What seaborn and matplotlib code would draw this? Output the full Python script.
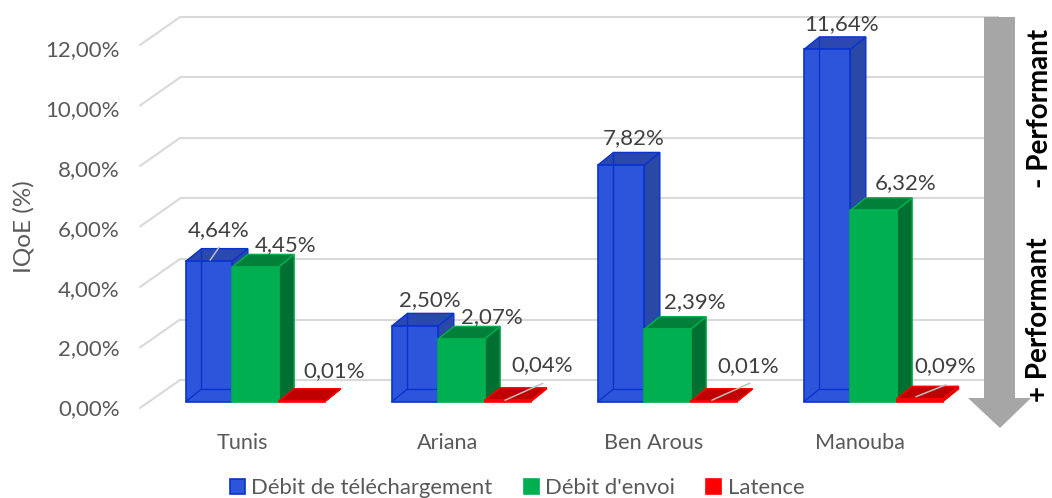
import matplotlib
matplotlib.use("Agg")
import matplotlib.pyplot as plt
import pandas as pd
import seaborn as sns
from matplotlib.patches import Polygon
from matplotlib.transforms import ScaledTranslation

categories = ["Tunis", "Ariana", "Ben Arous", "Manouba"]
debit_dl = [4.64, 2.50, 7.82, 11.64]
debit_ul = [4.45, 2.07, 2.39, 6.32]
latence = [0.01, 0.04, 0.01, 0.09]
series_names = ["Débit de téléchargement", "Débit d'envoi", "Latence"]
y_ticks = [0, 2, 4, 6, 8, 10, 12]

W, H = 1052, 498
PX_X = 1 / 206          # data units per pixel, x
PX_Y = 1 / 30.25        # data units per pixel, y
X0_PX, Y0_PX = 255.5, 401.5
L_PX, R_PX, T_PX = 140, 1000, 5
GREY = "#595959"
LABEL = "#404040"

df = pd.DataFrame({
    "cat": categories * 3,
    "serie": [s for s in series_names for _ in categories],
    "val": debit_dl + debit_ul + latence,
})

sns.set_theme(style="white")
plt.rcParams["font.family"] = ["Lato", "DejaVu Sans"]

fig = plt.figure(figsize=(W / 100, H / 100), dpi=100)
ax = fig.add_axes([L_PX / W, 1 - Y0_PX / H, (R_PX - L_PX) / W, (Y0_PX - T_PX) / H])

styles = [
    dict(front="#2C55DB", edge="#0A33CC", top="#2A48B0", side="#2A48A6"),
    dict(front="#00B050", edge="#00B050", top="#008038", side="#006F32"),
    dict(front="#FF0000", edge="#FF0000", top="#C00000", side="#A80000"),
]
sns.barplot(data=df, x="cat", y="val", hue="serie", order=categories,
            hue_order=series_names, palette=[s["front"] for s in styles],
            saturation=1, width=0.675, gap=0, ax=ax, zorder=3)
handles, labels = ax.get_legend_handles_labels()
ax.get_legend().remove()

ax.set_xlim((L_PX - X0_PX) * PX_X, (R_PX - X0_PX) * PX_X)
ax.set_ylim(0, (Y0_PX - T_PX) * PX_Y)
ax.set_yticks(y_ticks)
ax.set_yticklabels([f"{t:d},00%" for t in y_ticks])
for s in ax.spines.values():
    s.set_visible(False)
ax.tick_params(axis="both", length=0, labelsize=16, labelcolor=GREY)
ax.tick_params(axis="y", pad=14.7)
ax.tick_params(axis="x", labelsize=15.6)
ax.set_xlabel("")
ax.set_ylabel("")
ax.grid(False)

# shift tick labels to the front plane of the 3-D frame
for t, lab in zip(y_ticks, ax.get_yticklabels()):
    lab.set_transform(lab.get_transform()
                      + ScaledTranslation(0, (-6 - 0.29 * t) / 100, fig.dpi_scale_trans))
for lab in ax.get_xticklabels():
    lab.set_transform(lab.get_transform() + ScaledTranslation(-13.5 / 100, -27 / 100, fig.dpi_scale_trans))

# 3-D frame: back-wall gridlines plus their diagonals
WALL_X0, WALL_X1 = 180, 999
WALL_UP = 21.5
for t in y_ticks:
    yb = t + WALL_UP * PX_Y
    ax.plot([(WALL_X0 - X0_PX) * PX_X, (WALL_X1 - X0_PX) * PX_X], [yb, yb],
            color="#D9D9D9", lw=1.5, clip_on=False, zorder=1, solid_capstyle="butt")
    ax.plot([(140 - X0_PX) * PX_X, (WALL_X0 - X0_PX) * PX_X], [yb - 28 * PX_Y, yb],
            color="#D9D9D9", lw=1.5, clip_on=False, zorder=1)

# depth of every bar
DX, DY = 15.5 * PX_X, 12.5 * PX_Y
for i, (cont, st) in enumerate(zip(ax.containers, styles)):
    base_z = 3 + i
    for bar in cont:
        x0, x1 = bar.get_x(), bar.get_x() + bar.get_width()
        h = bar.get_height()
        bar.set(edgecolor=st["edge"], linewidth=1.2, zorder=base_z + 0.3, clip_on=False)
        ax.add_patch(Polygon([(x1, 0), (x1 + DX, DY), (x1 + DX, h + DY), (x1, h)],
                             fc=st["side"], ec=st["edge"], lw=1.0, zorder=base_z, clip_on=False))
        ax.add_patch(Polygon([(x0, h), (x1, h), (x1 + DX, h + DY), (x0 + DX, h + DY)],
                             fc=st["top"], ec=st["edge"], lw=1.0, zorder=base_z + 0.1, clip_on=False))
        if i == 0:
            # rear edges seen through the translucent blue column
            ax.plot([x0 + DX, x0 + DX], [DY, h + DY], color=st["edge"], lw=1.0, zorder=base_z + 0.4)
            ax.plot([x0 + DX, x1 + DX], [DY, DY], color=st["edge"], lw=1.0, zorder=base_z + 0.4)
            ax.plot([x0, x0 + DX], [0, DY], color=st["edge"], lw=1.0, zorder=base_z + 0.4)

# data labels: pixel offset from the front-top centre of each bar
label_offsets = [
    [(9, 31), (30, 22), (32, 30)],
    [(15, 26), (30.5, 22), (34, 35)],
    [(13, 27), (27.5, 27), (34, 35)],
    [(14, 25), (32.5, 27), (25, 33)],
]
values = [debit_dl, debit_ul, latence]
for s, cont in enumerate(ax.containers):
    for c, bar in enumerate(cont):
        xc = bar.get_x() + bar.get_width() / 2
        txt = f"{values[s][c]:.2f}".replace(".", ",") + "%"
        ax.annotate(txt, xy=(xc, bar.get_height()), xytext=label_offsets[c][s],
                    textcoords="offset pixels", ha="center", va="center",
                    fontsize=16, color=LABEL, zorder=10, annotation_clip=False)

# leader lines: (series, category, start offset px, end offset px) from bar front-top centre
leaders = [
    (0, 0, (1, 1), (10, 14)),
    (2, 1, (-3, 0), (35, 17)),
    (2, 2, (-2, 1), (36, 18)),
    (2, 3, (-4, 2), (26, 14)),
]
for s, c, a, b in leaders:
    bar = ax.containers[s][c]
    xc = bar.get_x() + bar.get_width() / 2
    h = bar.get_height()
    ax.plot([xc + a[0] * PX_X, xc + b[0] * PX_X], [h + a[1] * PX_Y, h + b[1] * PX_Y],
            color="#BFBFBF", lw=1.1, zorder=9, clip_on=False)

# axis title
fig.text(24 / W, 1 - 227 / H, "IQoE (%)", rotation=90, ha="center", va="center",
         fontsize=17.5, color=GREY)

# performance arrow
def fpt(x, y):
    return (x / W, 1 - y / H)

arrow_px = [(984, 17), (1015, 17), (1015, 398), (1031, 398), (1000, 428), (968, 398), (984, 398)]
fig.add_artist(Polygon([fpt(*p) for p in arrow_px], closed=True, fc="#A6A6A6", ec="none",
                       transform=fig.transFigure, zorder=5))
fig.text(1040 / W, 1 - 108 / H, "- Performant", rotation=90, ha="center", va="center",
         fontsize=20, fontweight="bold", color="black")
fig.text(1039 / W, 1 - 320 / H, "+ Performant", rotation=90, ha="center", va="center",
         fontsize=20, fontweight="bold", color="black")

# legend
for h, st in zip(handles, styles):
    h.set_edgecolor(st["edge"])
    h.set_linewidth(1.2)
fig.legend(handles, labels, loc="center", bbox_to_anchor=(517 / W, 1 - 488 / H), ncol=3,
           frameon=False, fontsize=15.9, labelcolor=GREY, handlelength=0.68, handleheight=0.68,
           handletextpad=0.3, columnspacing=1.4, borderpad=0)

fig.savefig("out.png", dpi=100)
